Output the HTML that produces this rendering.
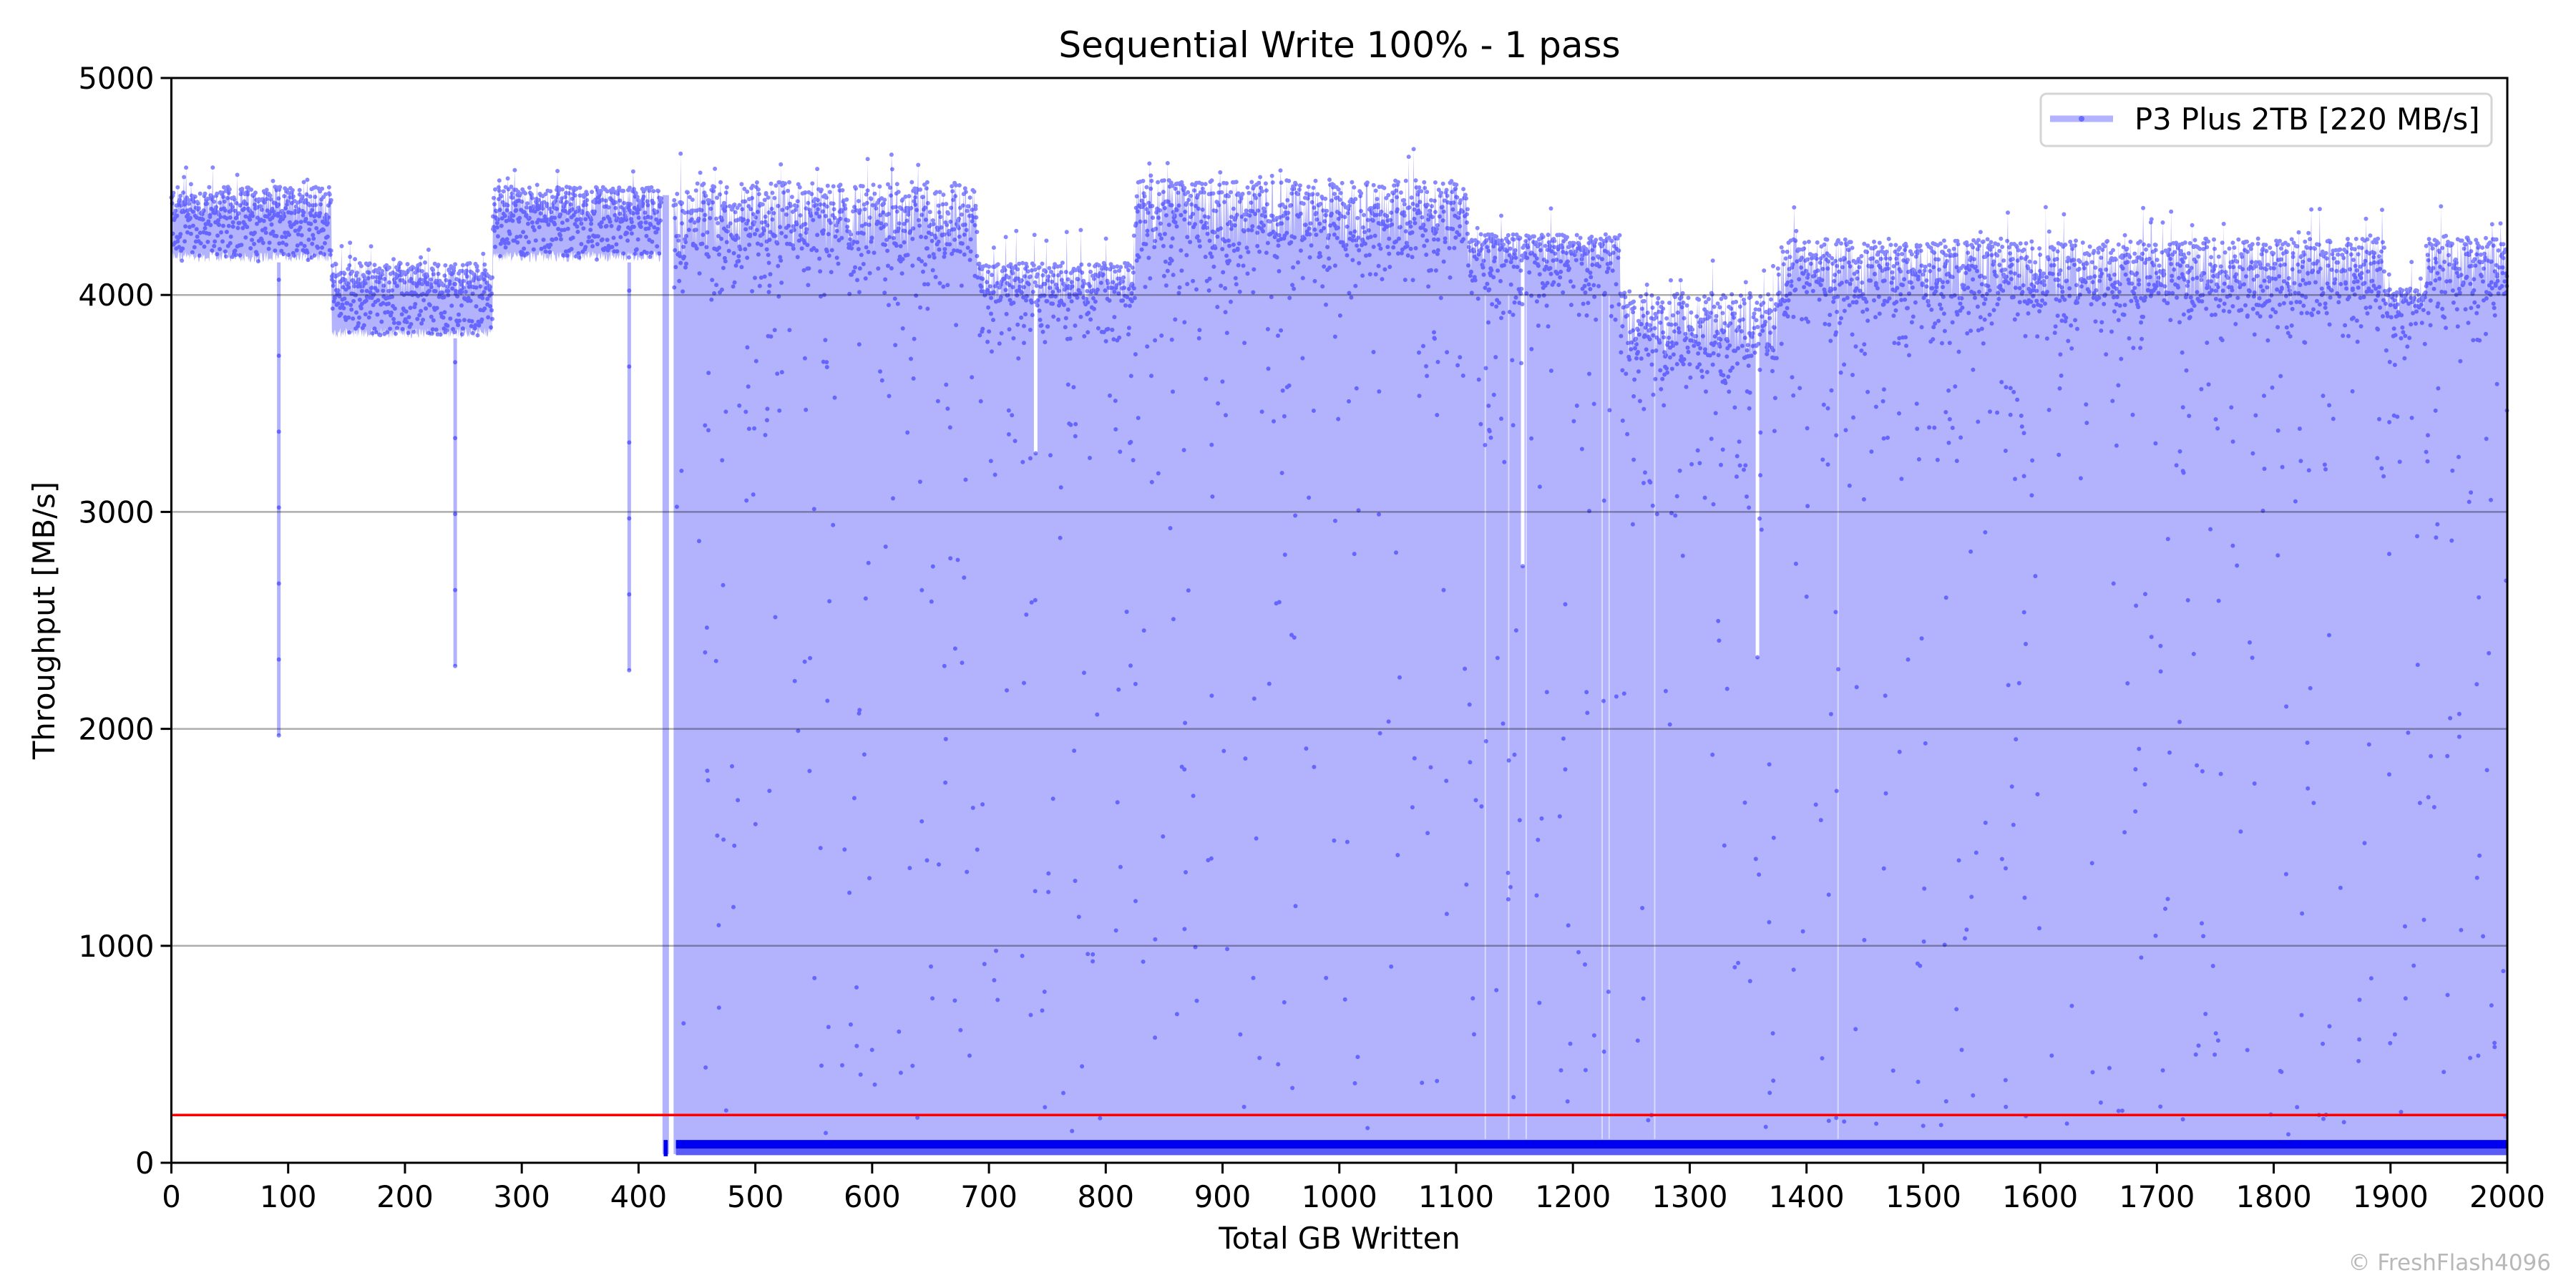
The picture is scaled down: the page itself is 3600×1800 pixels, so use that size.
<!DOCTYPE html>
<html><head><meta charset="utf-8">
<style>html,body{margin:0;padding:0;background:#fff;width:3600px;height:1800px;overflow:hidden}
svg{display:block;font-family:"DejaVu Sans","Liberation Sans",sans-serif}</style></head>
<body>
<svg id="s" width="3600" height="1800" viewBox="0 0 3600 1800" xmlns="http://www.w3.org/2000/svg">
<rect width="3600" height="1800" fill="#fff"/>
<g id="data"></g>
<g id="grid" stroke="rgba(0,0,0,0.32)" stroke-width="2.5">
<line x1="239.5" x2="3504" y1="1321.8" y2="1321.8"/>
<line x1="239.5" x2="3504" y1="1018.6" y2="1018.6"/>
<line x1="239.5" x2="3504" y1="715.4" y2="715.4"/>
<line x1="239.5" x2="3504" y1="412.2" y2="412.2"/>
</g>
<line x1="239.5" x2="3504" y1="1558.3" y2="1558.3" stroke="#ff0000" stroke-width="3.5"/>
<rect x="239.5" y="109" width="3264.5" height="1516" fill="none" stroke="#000" stroke-width="3"/>
<g id="ticks" stroke="#000" stroke-width="3"></g>
<g id="labels" font-size="41.7" fill="#000"></g>
<text x="1872" y="80" font-size="50" text-anchor="middle">Sequential Write 100% - 1 pass</text>
<text x="1872" y="1745" font-size="41.7" text-anchor="middle">Total GB Written</text>
<text transform="translate(76,867) rotate(-90)" font-size="41.7" text-anchor="middle">Throughput [MB/s]</text>
<text x="3565" y="1775" font-size="31" fill="#b8b8b8" text-anchor="end">© FreshFlash4096</text>
<rect x="2852" y="131" width="630" height="73" rx="8" fill="rgba(255,255,255,0.8)" stroke="#d5d5d5" stroke-width="3"/>
<line x1="2865" x2="2953" y1="166" y2="166" stroke="#b2b2ff" stroke-width="9"/>
<circle cx="2909" cy="166" r="4" fill="#6b6bff"/>
<text x="2983" y="181" font-size="41.7">P3 Plus 2TB [220 MB/s]</text>
</svg>
<script>
(function(){
var NS="http://www.w3.org/2000/svg";
var L=239.5,R=3504,T=109,B=1625;
function X(v){return L+(R-L)*v/2000;}
function Y(v){return B-(B-T)*v/5000;}
var seed=12345;function rnd(){seed=(seed*1103515245+12345)&0x7fffffff;return seed/0x7fffffff;}
function base(x){
 if(x<137)return [4150,4500];
 if(x<275)return [3800,4150];
 if(x<420)return [4150,4500];
 if(x<690)return [4170,4520];
 if(x<825)return [3950,4150];
 if(x<1110)return [4200,4530];
 if(x<1240)return [4100,4280];
 if(x<1375)return [3700,4010];
 if(x<1895)return [3950,4260];
 if(x<1930)return [3900,4030];
 return [4000,4270];
}
function el(n,a,p){var e=document.createElementNS(NS,n);for(var k in a)e.setAttribute(k,a[k]);(p||d).appendChild(e);return e;}
var d=document.getElementById("data");
var step=0.6,dots=[];
var FILL="#b2b2fd";
var up=[],lo=[];
for(var x=0;x<=420;x+=step){
 var b=base(x),r=b[1]-b[0];
 var u=b[0]+r*(0.5+0.5*Math.pow(rnd(),0.8)),l=b[0]+r*0.15*rnd();
 if(rnd()<0.03)u+=100;
 up.push([X(x),Y(u)]);lo.push([X(x),Y(l)]);
 dots.push([X(x),Y(u)]);dots.push([X(x),Y(l+(u-l)*rnd())]);
}
var s="M"+up.map(function(q){return q[0].toFixed(1)+","+q[1].toFixed(1);}).join(" L");
for(var i=lo.length-1;i>=0;i--)s+=" L"+lo[i][0].toFixed(1)+","+lo[i][1].toFixed(1);
el("path",{d:s+" Z",fill:FILL});
[[92,1970,4150],[243,2290,3800],[392,2270,4150]].forEach(function(g){
 el("rect",{x:X(g[0])-2.5,width:5,y:Y(g[2]),height:Y(g[1])-Y(g[2]),fill:FILL});
 for(var v=g[1];v<g[2];v+=350)dots.push([X(g[0]),Y(v)]);
});
el("rect",{x:X(420.5),width:X(426)-X(420.5),y:Y(4460),height:Y(40)-Y(4460),fill:FILL});
var poly="M"+X(430)+","+Y(40);
for(var x=430;x<=2000;x+=step){
 var b=base(x),v=b[0]+(b[1]-b[0])*Math.pow(rnd(),0.7);
 if(rnd()<0.03)v+=150;
 poly+=" L"+X(x).toFixed(1)+","+Y(v).toFixed(1);
 dots.push([X(x),Y(v)]);
 if(rnd()<0.5)dots.push([X(x),Y(b[0]+(b[1]-b[0])*rnd()-rnd()*250)]);
}
poly+=" L"+X(2000)+","+Y(40)+" Z";
el("path",{d:poly,fill:FILL});
[[740,3270,4150],[1157,2750,4300],[1358,2330,4050]].forEach(function(g){
 el("rect",{x:X(g[0])-2.5,width:5,y:Y(g[2]),height:Y(g[1])-Y(g[2]),fill:"#fff"});
 dots.push([X(g[0]),Y(g[1])]);
});
[1125,1145,1225,1231,1270,1427,1160].forEach(function(g){
 el("rect",{x:X(g)-1,width:2,y:Y(4000),height:Y(110)-Y(4000),fill:"rgba(255,255,255,0.5)"});
});
for(var i=0;i<600;i++){var xx=430+rnd()*1570;dots.push([X(xx),Y(120+rnd()*3900)]);}
for(var i=0;i<200;i++){var xx=430+rnd()*1570;var b=base(xx);dots.push([X(xx),Y(b[0]-300-rnd()*500)]);}
var s2="";
dots.forEach(function(q){s2+="M"+(q[0]-3).toFixed(1)+","+q[1].toFixed(1)+"a3,3 0 1,0 6,0a3,3 0 1,0 -6,0";});
el("path",{d:s2,fill:"rgba(40,40,255,0.55)"});
el("rect",{x:X(432),width:X(2000)-X(432),y:Y(105),height:Y(65)-Y(105),fill:"#0000f0"});
el("rect",{x:X(432),width:X(2000)-X(432),y:Y(65),height:Y(35)-Y(65),fill:"#5a5af5"});
el("rect",{x:X(421.5),width:X(425)-X(421.5),y:Y(105),height:Y(30)-Y(105),fill:"#0000f0"});
var tk=document.getElementById("ticks"),lb=document.getElementById("labels");
for(var i=0;i<=20;i++){var xv=X(i*100);
 el("line",{x1:xv,x2:xv,y1:B,y2:B+15},tk);
 el("text",{x:xv,y:1687,"text-anchor":"middle"},lb).textContent=i*100;}
for(var i=0;i<=5;i++){var yv=Y(i*1000);
 el("line",{x1:L-15,x2:L,y1:yv,y2:yv},tk);
 el("text",{x:L-24,y:yv+15,"text-anchor":"end"},lb).textContent=i*1000;}
})();
</script>
</body></html>
